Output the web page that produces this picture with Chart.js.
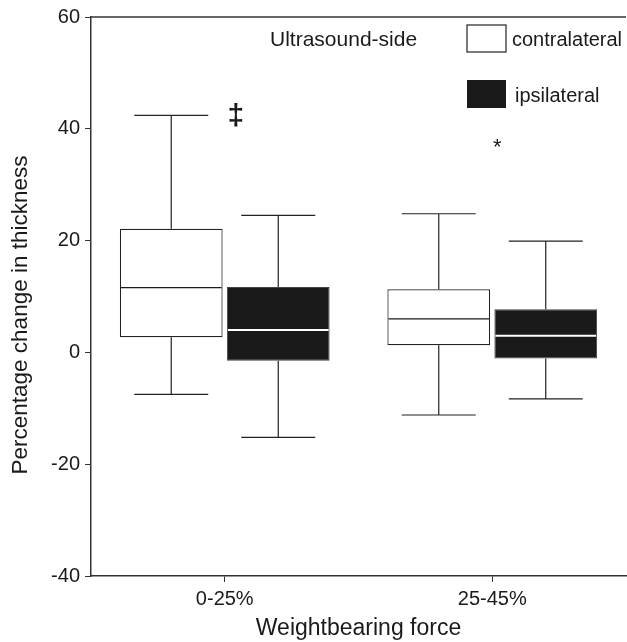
<!DOCTYPE html>
<html>
<head>
<meta charset="utf-8">
<script src="https://cdn.jsdelivr.net/npm/chart.js@4/dist/chart.umd.min.js"></script>
<style>
  html, body { margin: 0; padding: 0; background: #fff; }
  #wrap { width: 627px; height: 642px; }
</style>
</head>
<body>
<div id="wrap"><canvas id="boxChart"></canvas></div>
<script>
const categories = ["0-25%", "25-45%"];
const seriesNames = ["contralateral", "ipsilateral"];
const yTicks = [-40, -20, 0, 20, 40, 60];
const yTitle = "Percentage change in thickness";
const xTitle = "Weightbearing force";

// box stats per category: min, q1, median, q3, max
const contraMin = [-7.5, -11.2];
const contraQ1 = [2.7, 1.3];
const contraMed = [11.6, 6.0];
const contraQ3 = [22.1, 11.3];
const contraMax = [42.4, 24.8];

const ipsiMin = [-15.2, -8.3];
const ipsiQ1 = [-1.5, -1.1];
const ipsiMed = [4.0, 3.0];
const ipsiQ3 = [11.7, 7.7];
const ipsiMax = [24.5, 19.9];

// significance marks: [category, value]
const markDagger = [0, 42];
const markStar = [1, 37];

const FONT = "'Liberation Sans', Arial, sans-serif";
const INK = "#1a1a1a";

const stats = [
  { min: contraMin, q1: contraQ1, med: contraMed, q3: contraQ3, max: contraMax, medColor: INK },
  { min: ipsiMin, q1: ipsiQ1, med: ipsiMed, q3: ipsiQ3, max: ipsiMax, medColor: "#ffffff" }
];

const boxPlugin = {
  id: "boxExtras",
  afterDatasetsDraw(chart) {
    const ctx = chart.ctx;
    const y = chart.scales.y;
    const area = chart.chartArea;
    ctx.save();

    // top frame line
    ctx.strokeStyle = "#333";
    ctx.lineWidth = 1.5;
    ctx.beginPath();
    ctx.moveTo(area.left, area.top);
    ctx.lineTo(area.right, area.top);
    ctx.stroke();

    stats.forEach((s, di) => {
      const meta = chart.getDatasetMeta(di);
      meta.data.forEach((bar, i) => {
        const cx = bar.x;
        const half = bar.width / 2;
        const cap = bar.width * 0.36;
        ctx.strokeStyle = "#222";
        ctx.lineWidth = 1.2;
        ctx.beginPath();
        ctx.moveTo(cx, y.getPixelForValue(s.q3[i]));
        ctx.lineTo(cx, y.getPixelForValue(s.max[i]));
        ctx.moveTo(cx - cap, y.getPixelForValue(s.max[i]));
        ctx.lineTo(cx + cap, y.getPixelForValue(s.max[i]));
        ctx.moveTo(cx, y.getPixelForValue(s.q1[i]));
        ctx.lineTo(cx, y.getPixelForValue(s.min[i]));
        ctx.moveTo(cx - cap, y.getPixelForValue(s.min[i]));
        ctx.lineTo(cx + cap, y.getPixelForValue(s.min[i]));
        ctx.stroke();

        ctx.strokeStyle = s.medColor;
        ctx.lineWidth = di === 1 ? 2 : 1.2;
        ctx.beginPath();
        ctx.moveTo(cx - half + 1, y.getPixelForValue(s.med[i]));
        ctx.lineTo(cx + half - 1, y.getPixelForValue(s.med[i]));
        ctx.stroke();
      });
    });

    // significance marks, placed near the left edge of the ipsilateral box
    ctx.fillStyle = INK;
    ctx.textAlign = "center";
    ctx.textBaseline = "middle";
    ctx.font = "bold 30px " + FONT;
    const m0 = chart.getDatasetMeta(1).data[markDagger[0]];
    ctx.fillText("\u2021", m0.x - m0.width / 2 + 9, y.getPixelForValue(markDagger[1]) - 1);
    ctx.font = "22px " + FONT;
    const m1 = chart.getDatasetMeta(1).data[markStar[0]];
    ctx.fillText("*", m1.x - m1.width / 2 + 3, y.getPixelForValue(markStar[1]) + 2);

    // y axis title, sits a bit below the plot centre in the original
    ctx.save();
    ctx.translate(21, 315);
    ctx.rotate(-Math.PI / 2);
    ctx.font = "22.5px " + FONT;
    ctx.fillText(yTitle, 0, 0);
    ctx.restore();

    // legend
    ctx.textAlign = "left";
    ctx.font = "21px " + FONT;
    ctx.fillText("Ultrasound-side", 270, 40);
    ctx.lineWidth = 1.2;
    ctx.strokeStyle = "#222";
    ctx.fillStyle = "#fff";
    ctx.fillRect(467, 25, 39, 27);
    ctx.strokeRect(467, 25, 39, 27);
    ctx.fillStyle = INK;
    ctx.fillRect(467, 80, 39, 28);
    ctx.font = "20px " + FONT;
    ctx.fillText(seriesNames[0], 512, 40);
    ctx.fillText(seriesNames[1], 515, 96);

    ctx.restore();
  }
};

new Chart(document.getElementById("boxChart").getContext("2d"), {
  type: "bar",
  data: {
    labels: categories,
    datasets: [
      {
        label: seriesNames[0],
        data: categories.map((c, i) => [contraQ1[i], contraQ3[i]]),
        backgroundColor: "#ffffff",
        borderColor: "#222",
        borderWidth: 1.2,
        borderSkipped: false,
        categoryPercentage: 0.8,
        barPercentage: 0.96
      },
      {
        label: seriesNames[1],
        data: categories.map((c, i) => [ipsiQ1[i], ipsiQ3[i]]),
        backgroundColor: INK,
        borderColor: "#444",
        borderWidth: 1,
        borderSkipped: false,
        categoryPercentage: 0.8,
        barPercentage: 0.96
      }
    ]
  },
  options: {
    responsive: true,
    maintainAspectRatio: false,
    animation: false,
    layout: { padding: { top: 15, right: 1, left: 0, bottom: 0 } },
    plugins: {
      legend: { display: false },
      tooltip: { enabled: false }
    },
    scales: {
      x: {
        grid: { offset: false, drawOnChartArea: false, drawTicks: true, tickLength: 6, color: "#333" },
        border: { display: true, color: "#333", width: 1.5 },
        ticks: { color: INK, font: { family: FONT, size: 20 }, padding: 5 },
        title: { display: true, text: xTitle, color: INK, font: { family: FONT, size: 23 }, padding: { top: 0, bottom: 0 } },
        afterFit(scale) { scale.height = 66; }
      },
      y: {
        min: -40,
        max: 60,
        afterBuildTicks(scale) { scale.ticks = yTicks.map(v => ({ value: v })); },
        grid: { drawOnChartArea: false, drawTicks: true, tickLength: 6, color: "#333" },
        border: { display: true, color: "#333", width: 1.5 },
        ticks: { color: INK, font: { family: FONT, size: 20 }, padding: 5 },
        afterFit(scale) { scale.width = 91; }
      }
    }
  },
  plugins: [boxPlugin]
});
</script>
</body>
</html>
